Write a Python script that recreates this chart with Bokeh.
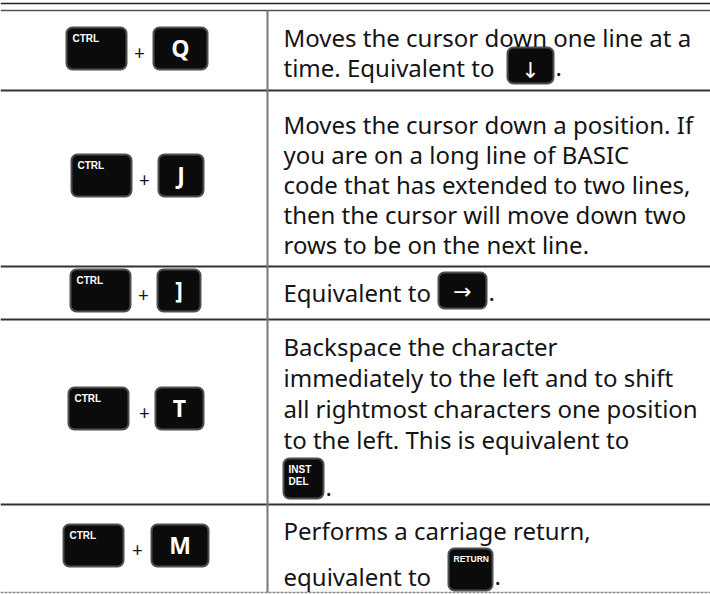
from bokeh.plotting import figure
from bokeh.models import Range1d
from bokeh.core.properties import value
from bokeh.embed import file_html
from bokeh.resources import INLINE

# ---------------- data ----------------
modifier_key = "CTRL"
shortcut_keys = ["Q", "J", "]", "T", "M"]
descriptions = [
    ["Moves the cursor down one line at a", "time. Equivalent to"],
    ["Moves the cursor down a position. If", "you are on a long line of BASIC",
     "code that has extended to two lines,", "then the cursor will move down two",
     "rows to be on the next line."],
    ["Equivalent to"],
    ["Backspace the character", "immediately to the left and to shift",
     "all rightmost characters one position", "to the left. This is equivalent to", ""],
    ["Performs a carriage return,", "equivalent to"],
]
inline_keys = [["\u2193"], [], ["\u2192"], ["INST", "DEL"], ["RETURN"]]

# ---------------- layout (reference pixel space) ----------------
row_edges = [10, 90, 266, 319, 504, 592]
top_rules = [3, 10]
divider_x = 267
text_left = 283
line_baselines = [[45, 75], [132, 162, 192, 222, 252], [300],
                  [354, 385, 416, 447, 495], [538, 584]]
BASELINE_FIX = -8   # renderer draws 'alphabetic' text ~8px below the anchor
combo_cy = [48, 175, 290, 408, 545]
ctrl_left = [66, 71, 70, 68, 63]
ctrl_w = 60
plus_x = [139, 144, 143, 144, 137]
letter_left = [153, 158, 157, 155, 151]
letter_w = [54, 45, 43, 48, 57]
key_h = 42
inline_box = [(507, 553, 47, 83), None, (438, 486, 272, 308),
              (283, 323, 458, 498), (448, 492, 548, 590)]
inline_last_line = [1, None, 0, 4, 1]
arrow_dy = [5, None, 1, None, None]

KEY_FILL = "#0b0b0b"
KEY_LINE = "#4f4f4f"
TEXT = "#141414"
BODY_FONT = value("Noto Sans")
KEY_FONT = value("Liberation Sans")

p = figure(width=710, height=594, x_range=Range1d(0, 710), y_range=Range1d(594, 0),
           output_backend="svg", toolbar_location=None, min_border=0,
           x_axis_location=None, y_axis_location=None, outline_line_color=None,
           background_fill_color="white", border_fill_color="white")
p.grid.visible = False

# table rules
p.segment(x0=[0, 0], y0=top_rules, x1=[710, 710], y1=top_rules,
          line_color=["#222222", "#555555"], line_width=[1.3, 1.6])
inner = row_edges[1:-1]
p.segment(x0=[0] * len(inner), y0=inner, x1=[710] * len(inner), y1=inner,
          line_color="#333333", line_width=2)
p.segment(x0=[0], y0=[row_edges[-1]], x1=[710], y1=[row_edges[-1]],
          line_color="#888888", line_width=1.5, line_dash="3 1")
p.segment(x0=[divider_x], y0=[row_edges[0]], x1=[divider_x], y1=[row_edges[-1]],
          line_color="#777777", line_width=2)

# key caps
L, R, T, B = [], [], [], []
for i in range(len(shortcut_keys)):
    cy = combo_cy[i]
    L += [ctrl_left[i], letter_left[i]]
    R += [ctrl_left[i] + ctrl_w, letter_left[i] + letter_w[i]]
    T += [cy - key_h / 2, cy - key_h / 2]
    B += [cy + key_h / 2, cy + key_h / 2]
for box in inline_box:
    if box:
        L.append(box[0]); R.append(box[1]); T.append(box[2]); B.append(box[3])
p.quad(left=L, right=R, top=T, bottom=B, fill_color=KEY_FILL,
       line_color=KEY_LINE, line_width=2, border_radius=6)

# CTRL labels
p.text(x=[c + 6 for c in ctrl_left], y=[cy - key_h / 2 + 5 for cy in combo_cy],
       text=[modifier_key] * len(shortcut_keys), text_font=KEY_FONT,
       text_font_style="bold", text_font_size="10px", text_color="white",
       text_align="left", text_baseline="top")
# letter labels
p.text(x=[l + w / 2 for l, w in zip(letter_left, letter_w)], y=[cy - 1 for cy in combo_cy],
       text=shortcut_keys, text_font=value("Open Sans"), text_font_style="bold",
       text_font_size="23px", text_color="white", text_align="center",
       text_baseline="middle")
# plus signs
p.text(x=plus_x, y=[cy + 4 for cy in combo_cy], text=["+"] * len(shortcut_keys),
       text_font=BODY_FONT, text_font_size="19px", text_color=TEXT,
       text_align="center", text_baseline="middle")

# description lines
xs, ys, ts = [], [], []
for lines, bls in zip(descriptions, line_baselines):
    for t, b in zip(lines, bls):
        if t:
            xs.append(text_left); ys.append(b + BASELINE_FIX); ts.append(t)
p.text(x=xs, y=ys, text=ts, text_font=BODY_FONT, text_font_size="24px",
       text_color=TEXT, text_align="left", text_baseline="alphabetic")

# inline key labels and trailing periods
ax, ay, at = [], [], []
sx, sy, st = [], [], []
px, py = [], []
for i, box in enumerate(inline_box):
    if not box:
        continue
    labels = inline_keys[i]
    if len(labels) == 1 and len(labels[0]) == 1:
        ax.append((box[0] + box[1]) / 2); ay.append((box[2] + box[3]) / 2 + arrow_dy[i]); at.append(labels[0])
    else:
        fs = 10 if len(labels) > 1 else 8.5
        for k, lab in enumerate(labels):
            sx.append(box[0] + 5); sy.append(box[2] + 5 + k * 12); st.append(lab)
    px.append(box[1] + 2)
    py.append(line_baselines[i][inline_last_line[i]] + BASELINE_FIX)
p.text(x=ax, y=ay, text=at, text_font=value("DejaVu Sans"), text_font_size="22px",
       text_color="white", text_align="center", text_baseline="middle")
p.text(x=sx, y=sy, text=st, text_font=KEY_FONT, text_font_style="bold",
       text_font_size=["10px", "10px", "8.5px"], text_color="white",
       text_align="left", text_baseline="top")
p.text(x=px, y=py, text=["."] * len(px), text_font=BODY_FONT, text_font_size="24px",
       text_color=TEXT, text_align="left", text_baseline="alphabetic")

open("out.html", "w").write(file_html(p, INLINE))
